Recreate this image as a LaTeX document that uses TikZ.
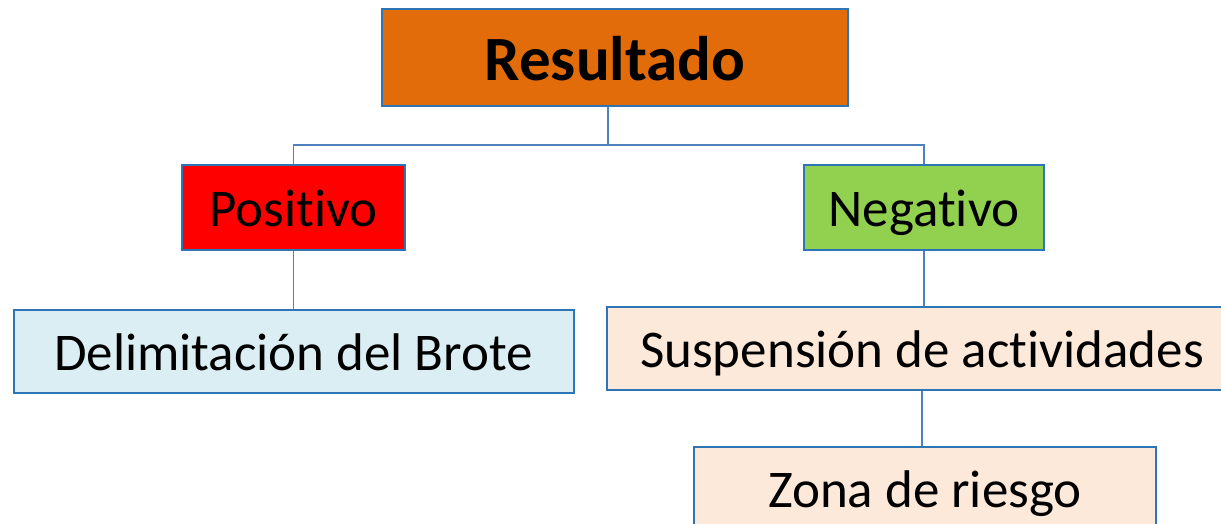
\documentclass[tikz,border=0pt]{standalone}
\usepackage{fontspec}
\setmainfont[Ligatures=NoCommon]{Carlito}
\usetikzlibrary{positioning}

\definecolor{orangeres}{RGB}{227,108,10}
\definecolor{greenneg}{RGB}{146,208,80}
\definecolor{bluedel}{RGB}{218,238,243}
\definecolor{peachsus}{RGB}{253,233,217}
\definecolor{edgeblue}{RGB}{46,117,182}
\definecolor{lineblue}{RGB}{79,129,189}

\tikzstyle{b} = [rectangle, draw=edgeblue, line width=2pt, sharp corners, inner sep=0pt, text centered, text height=45pt, text depth=8pt, font=\fontsize{53}{60}\selectfont]
\tikzstyle{l} = [draw=lineblue, line width=1.6pt]

\begin{document}
\begin{tikzpicture}[x=1pt, y=-1pt]
    \useasboundingbox (0,0) rectangle (1221,524);
    \clip (0,0) rectangle (1221,524);
    % Place nodes
    \node [b, fill=orangeres, minimum width=466pt, minimum height=97pt, text height=55pt, text depth=9.4pt, font=\fontsize{63}{70}\selectfont\bfseries] (res) at (615,57.5) {Resultado};
    \node [b, fill=red, minimum width=223pt, minimum height=85pt] (pos) at (293.5,207.5) {Positivo};
    \node [b, fill=greenneg, minimum width=240pt, minimum height=85pt] (neg) at (924,207.5) {Negativo};
    \node [b, fill=bluedel, minimum width=560pt, minimum height=83pt, below of=pos, node distance=144pt] (del) {Delimitación del Brote};
    \node [b, fill=peachsus, minimum width=630pt, minimum height=83pt, below of=neg, node distance=141pt, xshift=-2pt] (sus) {Suspensión de actividades};
    \node [b, fill=peachsus, minimum width=462pt, minimum height=83pt, below of=sus, node distance=140pt, xshift=3pt] (zona) {Zona de riesgo};
    \coordinate (bus) at (608,145);

    % Draw edges
    \path [l] (res.south -| bus) -- (bus);
    \path [l] (pos.north) |- (bus) -| (neg.north);
    \path [l] (pos.south) -- (pos.south |- del.north);
    \path [l] (neg.south) -- (neg.south |- sus.north);
    \path [l] (sus.south) -- (sus.south |- zona.north);

\end{tikzpicture}
\end{document}
